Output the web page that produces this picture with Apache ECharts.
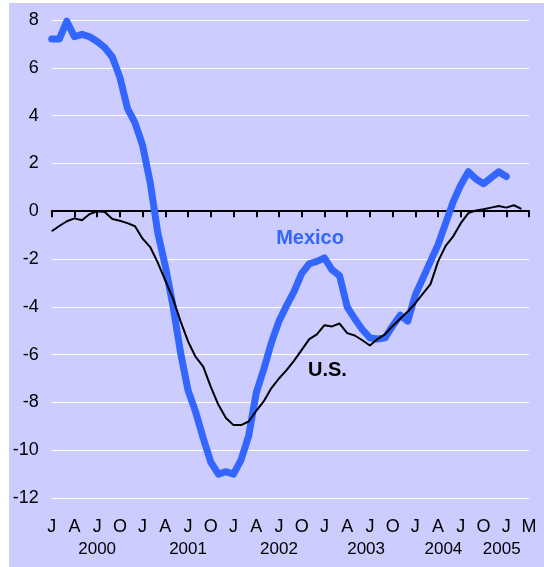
<!DOCTYPE html>
<html>
<head>
<meta charset="utf-8">
<script src="https://cdn.jsdelivr.net/npm/echarts@6/dist/echarts.min.js"></script>
<style>
  body { margin: 0; background: #ffffff; }
  #panel { position: absolute; left: 9px; top: 3px; right: 0; bottom: 0; width: 535px; height: 564px; background: #ccccff; }
  #main { position: absolute; left: 0; top: 0; width: 544px; height: 567px; }
</style>
</head>
<body>
<div id="panel"></div>
<div id="main"></div>
<script>
// quarterly tick letters, Jan 2000 .. Apr 2005 (one every 3 months)
var monthLetters = ['J','A','J','O','J','A','J','O','J','A','J','O','J','A','J','O','J','A','J','O','J','M'];
// year captions and where they sit (in months from Jan 2000)
var years = ['2000', '2001', '2002', '2003', '2004', '2005'];
var yearAt = [6, 18, 30, 41.5, 51.7, 59.4];

// monthly values, Jan 2000 onwards
var mexico = [
  7.2, 7.2, 7.95, 7.3, 7.4, 7.3, 7.1, 6.85, 6.45, 5.6, 4.3, 3.7,
  2.75, 1.2, -0.9, -2.3, -3.95, -5.9, -7.5, -8.4, -9.5, -10.5, -11.0, -10.9,
  -11.0, -10.4, -9.4, -7.6, -6.6, -5.5, -4.6, -3.95, -3.35, -2.6, -2.2, -2.1,
  -1.95, -2.45, -2.7, -4.0, -4.5, -4.95, -5.3, -5.35, -5.3, -4.8, -4.35, -4.6,
  -3.5, -2.8, -2.1, -1.4, -0.5, 0.4, 1.1, 1.65, 1.35, 1.15, 1.4, 1.65,
  1.45
];
var us = [
  -0.84, -0.62, -0.42, -0.3, -0.38, -0.12, 0.0, -0.03, -0.33, -0.4, -0.5, -0.63,
  -1.15, -1.5, -2.15, -2.9, -3.65, -4.6, -5.45, -6.1, -6.5, -7.35, -8.1, -8.65,
  -8.95, -8.95, -8.8, -8.35, -7.95, -7.4, -7.0, -6.65, -6.25, -5.8, -5.35, -5.15,
  -4.77, -4.82, -4.7, -5.1, -5.2, -5.4, -5.62, -5.35, -5.15, -4.8, -4.5, -4.2,
  -3.85, -3.45, -3.05, -2.1, -1.45, -1.05, -0.5, -0.08, 0.03, 0.08, 0.15, 0.22,
  0.15, 0.25, 0.1
];

var font = 'Arial, "Liberation Sans", sans-serif';

function pairs(arr) {
  return arr.map(function (v, i) { return [i, v]; });
}

var chart = echarts.init(document.getElementById('main'));
var option = {
  animation: false,
  backgroundColor: 'transparent',
  grid: { left: 51.7, right: 15, top: 20, bottom: 69, containLabel: false },
  xAxis: [
    {   // bottom: month letters only
      type: 'value', min: 0, max: 63, interval: 3, position: 'bottom',
      axisLine: { show: false, onZero: false },
      axisTick: { show: false },
      splitLine: { show: false },
      axisLabel: {
        margin: 20, fontSize: 18, color: '#000', fontFamily: font,
        formatter: function (v) { return monthLetters[Math.round(v / 3)]; }
      }
    },
    {   // black zero line with quarter ticks hanging below it
      type: 'value', min: 0, max: 63, interval: 3, position: 'top',
      axisLine: { show: true, onZero: true, lineStyle: { color: '#000', width: 2 } },
      axisTick: { show: true, inside: true, length: 6, lineStyle: { color: '#000', width: 2 } },
      axisLabel: { show: false },
      splitLine: { show: false }
    }
  ],
  yAxis: {
    type: 'value', min: -12, max: 8, interval: 2,
    axisLine: { show: false },
    axisTick: { show: false },
    axisLabel: { margin: 13, fontSize: 18, color: '#000', fontFamily: font },
    splitLine: { show: true, lineStyle: { color: '#ffffff', width: 1 } }
  },
  series: [
    {
      name: 'Mexico', type: 'line', xAxisIndex: 0, showSymbol: false,
      data: pairs(mexico),
      lineStyle: { color: '#3366ff', width: 7, cap: 'round', join: 'round' }
    },
    {
      name: 'U.S.', type: 'line', xAxisIndex: 0, showSymbol: false,
      data: pairs(us),
      lineStyle: { color: '#000000', width: 2, join: 'round' }
    }
  ]
};
chart.setOption(option);

// text placed in data coordinates
function at(x, y) { return chart.convertToPixel({ gridIndex: 0 }, [x, y]); }

var graphics = [];
var pm = at(34.1, -1.15);
graphics.push({ type: 'text', x: pm[0], y: pm[1], style: {
  text: 'Mexico', fill: '#3366ff', font: 'bold 20px ' + font, textAlign: 'center', textVerticalAlign: 'middle' } });
var pu = at(36.4, -6.68);
graphics.push({ type: 'text', x: pu[0], y: pu[1], style: {
  text: 'U.S.', fill: '#000', font: 'bold 20px ' + font, textAlign: 'center', textVerticalAlign: 'middle' } });
years.forEach(function (yr, i) {
  var p = at(yearAt[i], 0);
  graphics.push({ type: 'text', x: p[0], y: 549, style: {
    text: yr, fill: '#000', font: '17px ' + font, textAlign: 'center', textVerticalAlign: 'middle' } });
});
chart.setOption({ graphic: graphics });
</script>
</body>
</html>
